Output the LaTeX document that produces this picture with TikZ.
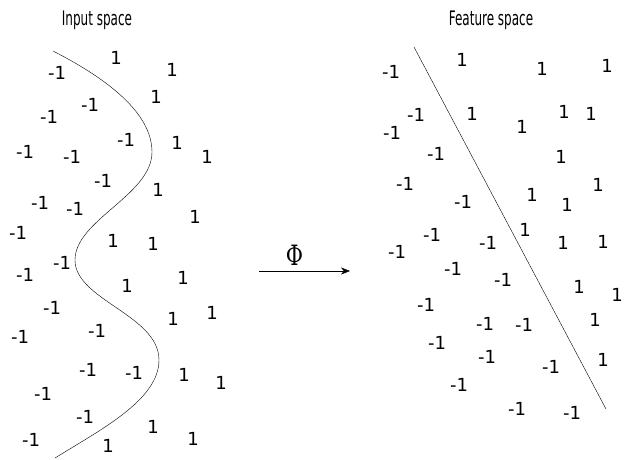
\documentclass[tikz,border=0pt]{standalone}
\usepackage{fontspec}
\setmainfont{DejaVu Sans}
\newfontfamily\phifont{DejaVu Serif}
\usetikzlibrary{arrows.meta}
\tikzset{
    lab/.style={inner sep=0pt, font=\fontsize{18}{18}\selectfont},
    ttl/.style={inner sep=0pt, xscale=0.6, font=\fontsize{20}{20}\selectfont},
}
\begin{document}
\begin{tikzpicture}[x=1pt, y=-1pt]
    \useasboundingbox (0,0) rectangle (627,459);

    % Titles
    \node[ttl] (intitle) at (97,20) {Input space};
    \node[ttl] (fttitle) at (491,20) {Feature space};

    % Input space samples
    \node[lab] (a1) at (57,73) {-1};
    \node[lab] (a2) at (116,58) {1};
    \node[lab] (a3) at (172,70) {1};
    \node[lab] (a4) at (90,105) {-1};
    \node[lab] (a5) at (156,97) {1};
    \node[lab] (a6) at (49,117) {-1};
    \node[lab] (a7) at (25,152) {-1};
    \node[lab] (a8) at (72,157) {-1};
    \node[lab] (a9) at (126,140) {-1};
    \node[lab] (a10) at (177,143) {1};
    \node[lab] (a11) at (207,157) {1};
    \node[lab] (a12) at (103,181) {-1};
    \node[lab] (a13) at (158,190) {1};
    \node[lab] (a14) at (40,203) {-1};
    \node[lab] (a15) at (75,209) {-1};
    \node[lab] (a16) at (195,217) {1};
    \node[lab] (a17) at (18,233) {-1};
    \node[lab] (a18) at (113,241) {1};
    \node[lab] (a19) at (153,244) {1};
    \node[lab] (a20) at (62,263) {-1};
    \node[lab] (a21) at (25,275) {-1};
    \node[lab] (a22) at (127,286) {1};
    \node[lab] (a23) at (183,278) {1};
    \node[lab] (a24) at (52,308) {-1};
    \node[lab] (a25) at (212,313) {1};
    \node[lab] (a26) at (173,319) {1};
    \node[lab] (a27) at (97,331) {-1};
    \node[lab] (a28) at (20,337) {-1};
    \node[lab] (a29) at (88,370) {-1};
    \node[lab] (a30) at (134,373) {-1};
    \node[lab] (a31) at (184,375) {1};
    \node[lab] (a32) at (221,383) {1};
    \node[lab] (a33) at (43,394) {-1};
    \node[lab] (a34) at (85,417) {-1};
    \node[lab] (a35) at (153,427) {1};
    \node[lab] (a36) at (31,440) {-1};
    \node[lab] (a37) at (108,446) {1};
    \node[lab] (a38) at (193,439) {1};

    % Feature space samples
    \node[lab] (b1) at (391,72) {-1};
    \node[lab] (b2) at (462,60) {1};
    \node[lab] (b3) at (542,69) {1};
    \node[lab] (b4) at (607,66) {1};
    \node[lab] (b5) at (416,115) {-1};
    \node[lab] (b6) at (472,114) {1};
    \node[lab] (b7) at (522,127) {1};
    \node[lab] (b8) at (564,112) {1};
    \node[lab] (b9) at (591,114) {1};
    \node[lab] (b10) at (392,133) {-1};
    \node[lab] (b11) at (436,154) {-1};
    \node[lab] (b12) at (561,157) {1};
    \node[lab] (b13) at (405,184) {-1};
    \node[lab] (b14) at (532,195) {1};
    \node[lab] (b15) at (567,205) {1};
    \node[lab] (b16) at (598,185) {1};
    \node[lab] (b17) at (463,202) {-1};
    \node[lab] (b18) at (432,235) {-1};
    \node[lab] (b19) at (397,252) {-1};
    \node[lab] (b20) at (488,243) {-1};
    \node[lab] (b21) at (525,230) {1};
    \node[lab] (b22) at (563,243) {1};
    \node[lab] (b23) at (603,242) {1};
    \node[lab] (b24) at (453,269) {-1};
    \node[lab] (b25) at (503,280) {-1};
    \node[lab] (b26) at (579,287) {1};
    \node[lab] (b27) at (617,295) {1};
    \node[lab] (b28) at (426,305) {-1};
    \node[lab] (b29) at (485,324) {-1};
    \node[lab] (b30) at (524,325) {-1};
    \node[lab] (b31) at (595,320) {1};
    \node[lab] (b32) at (437,343) {-1};
    \node[lab] (b33) at (487,357) {-1};
    \node[lab] (b34) at (603,360) {1};
    \node[lab] (b35) at (551,367) {-1};
    \node[lab] (b36) at (459,385) {-1};
    \node[lab] (b37) at (517,409) {-1};
    \node[lab] (b38) at (572,413) {-1};

    % Decision boundaries
    \draw (53,51) .. controls (100,75) and (152,110) .. (152,152)
        .. controls (152,195) and (75,220) .. (75,260)
        .. controls (75,300) and (159,315) .. (159,360)
        .. controls (159,400) and (100,430) .. (55,458);
    \draw (414,47) -- (606,409);

    % Mapping
    \coordinate (phis) at (259,271);
    \coordinate (phie) at (350,271);
    \draw[-{Stealth[length=9pt, width=7pt]}] (phis) -- node[above, inner sep=0pt, yshift=5pt, xshift=-10pt, xscale=0.75, font=\phifont\fontsize{28}{28}\selectfont] (phi) {Φ} (phie);
\end{tikzpicture}
\end{document}
